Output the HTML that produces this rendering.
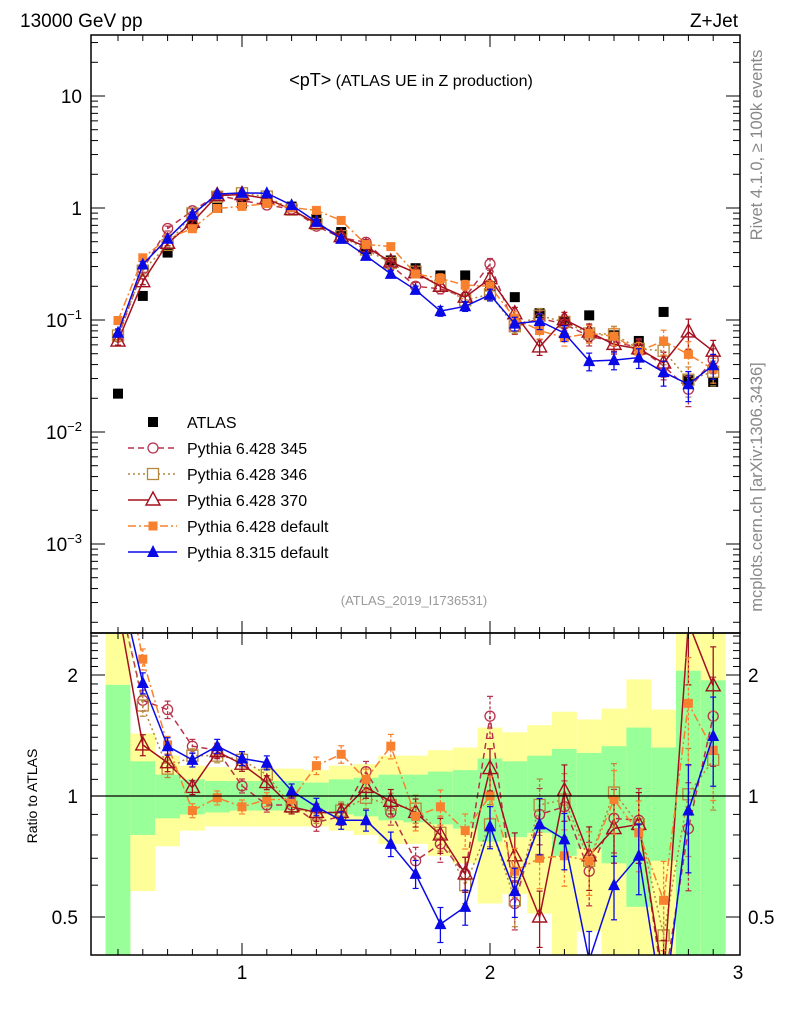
<!DOCTYPE html>
<html><head><meta charset="utf-8"><style>
body{margin:0;background:#fff;}
svg{display:block;font-family:"Liberation Sans",sans-serif;}
</style></head><body>
<svg id="chart" width="786" height="1024" viewBox="0 0 786 1024" xmlns="http://www.w3.org/2000/svg">
<defs>
<clipPath id="cm"><rect x="91" y="35" width="649" height="598"/></clipPath>
<clipPath id="cr"><rect x="91" y="634" width="649" height="321"/></clipPath>
</defs>
<g id="bands" clip-path="url(#cr)"></g>
<g id="main" clip-path="url(#cm)"></g>
<g id="ratio" clip-path="url(#cr)"></g>
<g id="axes"></g>
<text x="20" y="27" font-size="19">13000 GeV pp</text>
<text x="738" y="27" font-size="19" text-anchor="end">Z+Jet</text>
<text x="411" y="86" font-size="16" text-anchor="middle"><tspan font-size="18">&lt;pT&gt;</tspan> (ATLAS UE in Z production)</text>
<text x="414" y="605" font-size="13" fill="#999" text-anchor="middle">(ATLAS_2019_I1736531)</text>
<text transform="translate(762,145) rotate(-90)" font-size="16.5" fill="#888" text-anchor="middle">Rivet 4.1.0, ≥ 100k events</text>
<text transform="translate(762,487) rotate(-90)" font-size="16.5" fill="#888" text-anchor="middle">mcplots.cern.ch [arXiv:1306.3436]</text>
<text transform="translate(37,796) rotate(-90)" font-size="14" text-anchor="middle">Ratio to ATLAS</text>
<g id="legend"></g>
</svg>
<script>
const xs = [0.5,0.6,0.7,0.8,0.9,1.0,1.1,1.2,1.3,1.4,1.5,1.6,1.7,1.8,1.9,2.0,2.1,2.2,2.3,2.4,2.5,2.6,2.7,2.8,2.9];
const atlas = [0.022,0.164,0.40,0.71,1.0,1.1,1.12,1.03,0.80,0.61,0.43,0.34,0.29,0.25,0.25,0.20,0.16,0.115,0.098,0.11,0.073,0.065,0.118,0.029,0.028];
const r345 = [3.2,1.73,1.64,1.33,1.30,1.06,0.95,0.95,0.86,0.89,1.15,0.91,0.69,0.76,0.64,1.58,0.54,0.90,0.94,0.65,0.88,0.87,0.33,0.83,1.58];
const r346 = [3.3,1.68,1.17,1.26,1.26,1.23,1.13,0.94,0.90,0.92,0.99,0.95,0.93,0.81,0.60,0.85,0.55,0.95,0.98,0.69,1.02,0.85,0.45,1.01,1.23];
const r370 = [2.95,1.34,1.21,1.05,1.29,1.20,1.08,0.94,0.91,0.91,1.05,0.97,0.91,0.80,0.64,1.17,0.71,0.50,1.03,0.71,0.83,0.85,0.35,2.7,1.88];
const rdef = [4.5,2.19,1.34,0.92,0.99,0.94,0.98,0.98,1.19,1.27,1.10,1.33,0.89,0.94,0.82,1.00,0.65,0.70,0.71,0.69,0.98,0.81,0.55,1.70,1.30];
const r8 = [3.5,1.91,1.33,1.23,1.33,1.24,1.21,1.03,0.94,0.87,0.87,0.76,0.64,0.48,0.53,0.84,0.58,0.85,0.78,0.39,0.60,0.71,0.29,0.92,1.41];
const relErr = [0.08,0.06,0.05,0.04,0.04,0.04,0.04,0.04,0.05,0.05,0.06,0.07,0.08,0.1,0.1,0.12,0.14,0.16,0.16,0.18,0.18,0.2,0.25,0.3,0.25];
const yelHi = [3,1.43,1.26,1.19,1.18,1.17,1.17,1.17,1.16,1.19,1.20,1.26,1.26,1.30,1.32,1.48,1.44,1.50,1.62,1.55,1.65,1.95,1.64,3,3];
const yelLo = [0.3,0.58,0.75,0.82,0.84,0.84,0.84,0.84,0.84,0.82,0.80,0.76,0.76,0.71,0.68,0.54,0.57,0.51,0.3,0.46,0.3,0.3,0.3,0.3,0.3];
const grnHi = [1.89,1.22,1.13,1.10,1.09,1.09,1.09,1.09,1.08,1.10,1.11,1.13,1.13,1.15,1.16,1.24,1.22,1.26,1.31,1.28,1.33,1.48,1.32,2.05,1.94];
const grnLo = [0.3,0.80,0.88,0.90,0.91,0.92,0.92,0.92,0.92,0.90,0.89,0.87,0.86,0.85,0.83,0.77,0.79,0.81,0.71,0.74,0.68,0.53,0.69,0.3,0.3];
const xTicks = ["1","2","3"];
const yTicksMain = ["10","1","10^-1","10^-2","10^-3"];
const yTicksRatio = ["2","1","0.5"];

const NS="http://www.w3.org/2000/svg";
const X = v => 242 + (v-1)*248;
const YM = v => 208 - Math.log10(v)*112;
const YR = v => 796 - Math.log2(v)*121;
function mk(parent, tag, attrs){const e=document.createElementNS(NS,tag);for(const k in attrs)e.setAttribute(k,attrs[k]);parent.appendChild(e);return e;}

const bandsG=document.getElementById('bands');
xs.forEach((x,i)=>{
  const x0=X(x-0.05), x1=X(x+0.05);
  const y1=mk(bandsG,'rect',{x:x0,y:YR(yelHi[i]),width:x1-x0,height:YR(yelLo[i])-YR(yelHi[i]),fill:'#ffff99'});
  
  
  const g1=mk(bandsG,'rect',{x:x0,y:YR(grnHi[i]),width:x1-x0,height:YR(grnLo[i])-YR(grnHi[i]),fill:'#99ff99'});
  
  
});

const series=[
 {name:'Pythia 6.428 345',key:'p345',r:r345,color:'#b8324a',dash:'6,4',mark:'circle'},
 {name:'Pythia 6.428 346',key:'p346',r:r346,color:'#b5873a',dash:'2,3',mark:'osquare'},
 {name:'Pythia 6.428 370',key:'p370',r:r370,color:'#a3101f',dash:'',mark:'otri'},
 {name:'Pythia 6.428 default',key:'pdef',r:rdef,color:'#f7812e',dash:'8,3,2,3',mark:'fsquare'},
 {name:'Pythia 8.315 default',key:'p8',r:r8,color:'#0a0ae6',dash:'',mark:'ftri'}
];
function marker(g,m,x,y,c){
  let e;
  if(m==='circle') e=mk(g,'circle',{cx:x,cy:y,r:5,fill:'none',stroke:c,'stroke-width':1.3});
  else if(m==='osquare') e=mk(g,'rect',{x:x-5.5,y:y-5.5,width:11,height:11,fill:'none',stroke:c,'stroke-width':1.3});
  else if(m==='fsquare') e=mk(g,'rect',{x:x-4.5,y:y-4.5,width:9,height:9,fill:c});
  else if(m==='otri') e=mk(g,'polygon',{points:`${x},${y-8} ${x-7},${y+5} ${x+7},${y+5}`,fill:'none',stroke:c,'stroke-width':1.4});
  else if(m==='ftri') e=mk(g,'polygon',{points:`${x},${y-7} ${x-6},${y+5} ${x+6},${y+5}`,fill:c});
  else e=mk(g,'rect',{x:x-5,y:y-5,width:10,height:10,fill:c});
  return e;
}
const mainG=document.getElementById('main'), ratioG=document.getElementById('ratio');
function drawSeries(parent,vals,Y,s,label){
  const g=mk(parent,'g',{});
  
  
  const pts=xs.map((x,i)=>X(x)+','+Y(vals[i])).join(' ');
  mk(g,'polyline',{points:pts,fill:'none',stroke:s.color,'stroke-width':1.5,'stroke-dasharray':s.dash});
  xs.forEach((x,i)=>{
    const v=vals[i], e=relErr[i];
    mk(g,'line',{x1:X(x),x2:X(x),y1:Y(v*(1+e)),y2:Y(v*(1-e)),stroke:s.color,'stroke-width':1.3,'stroke-dasharray':s.dash?'3,2':''});
    mk(g,'line',{x1:X(x)-3,x2:X(x)+3,y1:Y(v*(1+e)),y2:Y(v*(1+e)),stroke:s.color,'stroke-width':1.2});
    mk(g,'line',{x1:X(x)-3,x2:X(x)+3,y1:Y(v*(1-e)),y2:Y(v*(1-e)),stroke:s.color,'stroke-width':1.2});
    const m=marker(g,s.mark,X(x),Y(v),s.color);
    
    
  });
}
xs.forEach((x,i)=>{
  const m=mk(mainG,'rect',{x:X(x)-5,y:YM(atlas[i])-5,width:10,height:10,fill:'#000'});
  
  
});
series.forEach(s=>{
  drawSeries(mainG,s.r.map((r,i)=>r*atlas[i]),YM,s,s.key+'-main');
  drawSeries(ratioG,s.r,YR,s,s.key+'-ratio');
});
const rl=mk(ratioG,'line',{x1:91,x2:740,y1:YR(1),y2:YR(1),stroke:'#000','stroke-width':1.3});



const ax=document.getElementById('axes');
mk(ax,'rect',{x:91,y:35,width:649,height:598,fill:'none',stroke:'#000','stroke-width':1.5});
mk(ax,'rect',{x:91,y:633,width:649,height:322,fill:'none',stroke:'#000','stroke-width':1.5});
for(let k=5;k<=29;k++){
  const v=k/10, x=X(v), major=(k%10===0), L=major?12:6;
  [[35,1],[633,-1],[633,1],[955,-1]].forEach(([y,d])=>mk(ax,'line',{x1:x,x2:x,y1:y,y2:y+d*L,stroke:'#000','stroke-width':1}));
}
xTicks.forEach(t=>{
  const e=mk(ax,'text',{x:X(+t),y:979,'font-size':19,'text-anchor':'middle'});e.textContent=t;
  
  
});
for(let d=-4;d<=1;d++){
  for(let m=1;m<=9;m++){
    const v=m*Math.pow(10,d), y=YM(v); if(y<35||y>633) continue;
    const L=m===1?14:7;
    mk(ax,'line',{x1:91,x2:91+L,y1:y,y2:y,stroke:'#000'});
    mk(ax,'line',{x1:740,x2:740-L,y1:y,y2:y,stroke:'#000'});
  }
}
yTicksMain.forEach(t=>{
  let v, e;
  if(t.includes('^')){const p=+t.split('^')[1]; v=Math.pow(10,p);
    e=mk(ax,'text',{x:82,y:YM(v)+7,'font-size':19,'text-anchor':'end'});
    const a=mk(e,'tspan',{});a.textContent='10';
    const b=mk(e,'tspan',{dy:-8,'font-size':13});b.textContent='−'+(-p);
  } else { v=+t; e=mk(ax,'text',{x:82,y:YM(v)+7,'font-size':19,'text-anchor':'end'}); e.textContent=t; }
  
  
});
[0.5,0.6,0.7,0.8,0.9,1,1.1,1.2,1.3,1.4,1.5,1.6,1.7,1.8,1.9,2,2.1,2.2,2.3,2.4,2.5].forEach(v=>{
  const y=YR(v); const L=(v===0.5||v===1||v===2)?14:7;
  mk(ax,'line',{x1:91,x2:91+L,y1:y,y2:y,stroke:'#000'});
  mk(ax,'line',{x1:740,x2:740-L,y1:y,y2:y,stroke:'#000'});
});
yTicksRatio.forEach(t=>{
  const a=mk(ax,'text',{x:78,y:YR(+t)+7,'font-size':19,'text-anchor':'end'});a.textContent=t;
  
  
  const b=mk(ax,'text',{x:748,y:YR(+t)+7,'font-size':19});b.textContent=t;
  
  
});
const lg=document.getElementById('legend');
const le=mk(lg,'g',{});


mk(le,'rect',{x:148,y:417,width:10,height:10,fill:'#000'});
const lt=mk(le,'text',{x:187,y:428,'font-size':16});lt.textContent='ATLAS';
series.forEach((s,i)=>{
  const y=448+i*26;
  const g=mk(lg,'g',{});
  
  
  mk(g,'line',{x1:128,x2:177,y1:y,y2:y,stroke:s.color,'stroke-width':1.5,'stroke-dasharray':s.dash});
  const m=marker(g,s.mark,153,y,s.color);
  if(s.mark==='circle'||s.mark==='osquare'||s.mark==='otri') m.setAttribute('fill','#fff');
  const t=mk(g,'text',{x:187,y:y+6,'font-size':16});t.textContent=s.name;
});
</script>
</body></html>
